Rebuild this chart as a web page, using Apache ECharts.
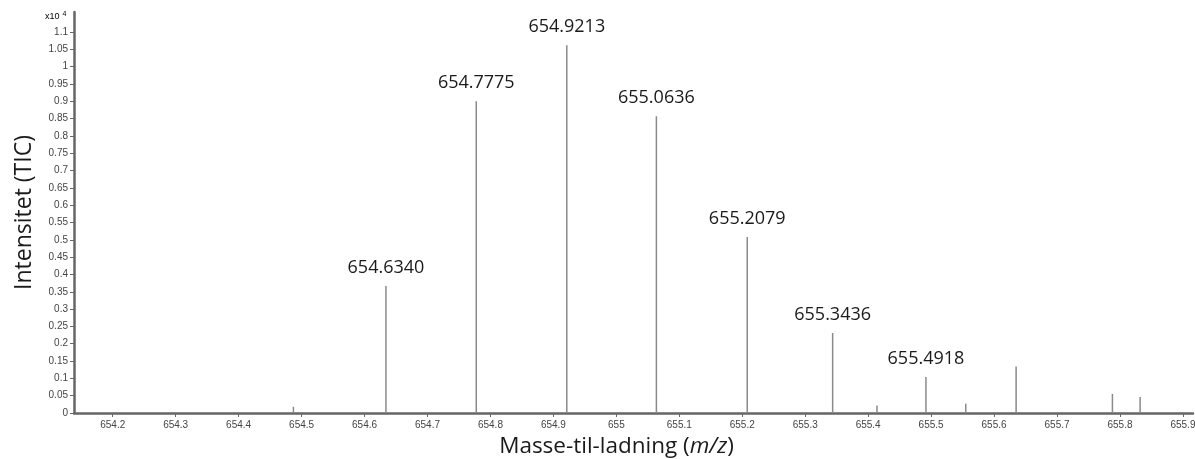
<!DOCTYPE html>
<html>
<head>
<meta charset="utf-8">
<script src="https://cdn.jsdelivr.net/npm/echarts@6/dist/echarts.min.js"></script>
<style>html,body{margin:0;padding:0;background:#fff}#c{width:1195px;height:459px}</style>
</head>
<body>
<div id="c"></div>
<script>
// m/z values of peaks
const mzValues = [654.487, 654.6340, 654.7775, 654.9213, 655.0636, 655.2079, 655.3436, 655.414, 655.4918, 655.555, 655.635, 655.788, 655.832];
// intensities (x10^4)
const intensities = [0.018, 0.367, 0.900, 1.062, 0.857, 0.508, 0.231, 0.022, 0.104, 0.027, 0.134, 0.055, 0.046];
// which peaks carry a label
const labelled = [false, true, true, true, true, true, true, false, true, false, false, false, false];
const xTicks = [654.2, 654.3, 654.4, 654.5, 654.6, 654.7, 654.8, 654.9, 655.0, 655.1, 655.2, 655.3, 655.4, 655.5, 655.6, 655.7, 655.8, 655.9];
const yTicks = [0, 0.05, 0.1, 0.15, 0.2, 0.25, 0.3, 0.35, 0.4, 0.45, 0.5, 0.55, 0.6, 0.65, 0.7, 0.75, 0.8, 0.85, 0.9, 0.95, 1, 1.05, 1.1];

const chart = echarts.init(document.getElementById('c'), null, {renderer: 'canvas'});
const data = mzValues.map((x, i) => ({
  value: [x, intensities[i]],
  label: {show: labelled[i], formatter: () => x.toFixed(4)}
}));

chart.setOption({
  animation: false,
  grid: {left: 74, right: 2, top: 12, bottom: 46, containLabel: false, outerBoundsMode: 'none'},
  xAxis: {
    type: 'value', min: 654.1385, max: 655.916,
    splitLine: {show: false},
    axisLine: {lineStyle: {color: '#666', width: 2.5}},
    axisTick: {customValues: xTicks, length: 4, lineStyle: {color: '#666', width: 1}},
    axisLabel: {customValues: xTicks, margin: 7, fontFamily: 'Liberation Sans', fontSize: 10, color: '#444',
      formatter: v => String(+v.toFixed(1))},
    name: '{a|Masse-til-ladning (}{i|m/z}{a|)}',
    nameLocation: 'middle', nameGap: 22,
    nameTextStyle: {padding: [0, 34, 0, 0],
      rich: {a: {fontFamily: 'Open Sans', fontSize: 22.5, color: '#1a1a1a'},
             i: {fontFamily: 'Open Sans', fontSize: 22.5, fontStyle: 'italic', color: '#1a1a1a'}}}
  },
  yAxis: {
    type: 'value', min: 0, max: 1.158,
    splitLine: {show: false},
    axisLine: {show: true, lineStyle: {color: '#666', width: 2.5}},
    axisTick: {show: true, customValues: yTicks, length: 4, lineStyle: {color: '#666', width: 1}},
    axisLabel: {customValues: yTicks, margin: 6, fontFamily: 'Liberation Sans', fontSize: 10, color: '#444',
      formatter: v => String(+v.toFixed(2))},
    name: 'Intensitet (TIC)', nameLocation: 'middle', nameGap: 38, nameRotate: 90,
    nameTextStyle: {fontFamily: 'Open Sans', fontSize: 23, color: '#1a1a1a'}
  },
  graphic: [{
    type: 'text', left: 45, top: 11,
    style: {text: '{a|x10}{s|4}', rich: {a: {fontFamily: 'Liberation Sans', fontSize: 9, color: '#444'},
      s: {fontFamily: 'Liberation Sans', fontSize: 7, color: '#444', verticalAlign: 'top', padding: [0, 0, 5, 3]}}}
  }],
  series: [{
    type: 'bar', data: data, barWidth: 1.5,
    itemStyle: {color: '#8a8a8a'},
    label: {position: 'top', distance: 9, fontFamily: 'Open Sans', fontSize: 18, color: '#1a1a1a'}
  }]
});
</script>
</body>
</html>
